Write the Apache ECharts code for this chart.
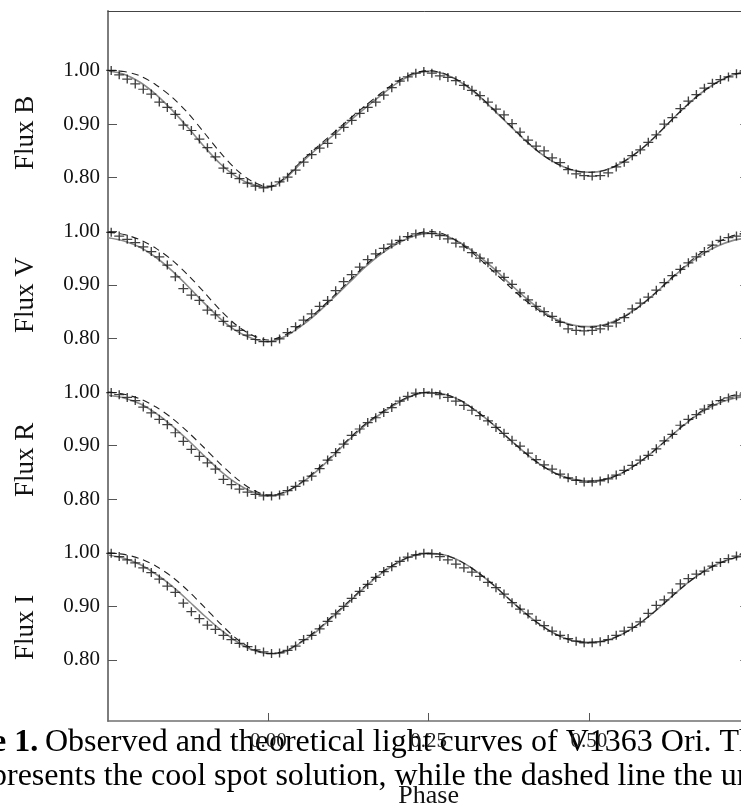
<!DOCTYPE html>
<html>
<head>
<meta charset="utf-8">
<script src="https://cdn.jsdelivr.net/npm/echarts@6/dist/echarts.min.js"></script>
<style>
  html, body { margin: 0; padding: 0; background: #fff; }
  #chart { width: 741px; height: 807px; }
</style>
</head>
<body>
<div id="chart"></div>
<script>
// observed phases (shared by all four bands)
const phaseObs = [
  -0.245, -0.2325, -0.22, -0.2075, -0.195, -0.1825, -0.17, -0.1575, -0.145, -0.1325,
  -0.12, -0.1075, -0.095, -0.0825, -0.07, -0.0575, -0.045, -0.0325, -0.02, -0.0075,
  0.005, 0.0175, 0.03, 0.0425, 0.055, 0.0675, 0.08, 0.0925, 0.105, 0.1175,
  0.13, 0.1425, 0.155, 0.1675, 0.18, 0.1925, 0.205, 0.2175, 0.23, 0.2425,
  0.255, 0.2675, 0.28, 0.2925, 0.305, 0.3175, 0.33, 0.3425, 0.355, 0.3675,
  0.38, 0.3925, 0.405, 0.4175, 0.43, 0.4425, 0.455, 0.4675, 0.48, 0.4925,
  0.505, 0.5175, 0.53, 0.5425, 0.555, 0.5675, 0.58, 0.5925, 0.605, 0.6175,
  0.63, 0.6425, 0.655, 0.6675, 0.68, 0.6925, 0.705, 0.7175, 0.73, 0.7425
];

const fluxB = [
  1.000, 0.992, 0.984, 0.975, 0.965, 0.956, 0.941, 0.931, 0.918, 0.898,
  0.888, 0.872, 0.856, 0.839, 0.818, 0.808, 0.798, 0.790, 0.784, 0.781,
  0.784, 0.792, 0.801, 0.814, 0.829, 0.843, 0.855, 0.864, 0.881, 0.894,
  0.907, 0.920, 0.931, 0.941, 0.954, 0.968, 0.980, 0.988, 0.995, 0.998,
  0.995, 0.990, 0.987, 0.981, 0.972, 0.963, 0.953, 0.941, 0.928, 0.917,
  0.901, 0.885, 0.870, 0.859, 0.850, 0.837, 0.828, 0.815, 0.807, 0.804,
  0.803, 0.804, 0.809, 0.820, 0.829, 0.841, 0.852, 0.866, 0.880, 0.900,
  0.912, 0.929, 0.943, 0.955, 0.967, 0.976, 0.983, 0.988, 0.994, 0.999
];

const fluxV = [
  0.998, 0.991, 0.985, 0.979, 0.971, 0.962, 0.952, 0.937, 0.915, 0.893,
  0.881, 0.871, 0.853, 0.844, 0.832, 0.823, 0.815, 0.806, 0.798, 0.794,
  0.794, 0.799, 0.811, 0.822, 0.834, 0.846, 0.860, 0.871, 0.889, 0.906,
  0.919, 0.933, 0.947, 0.958, 0.968, 0.976, 0.983, 0.990, 0.995, 0.997,
  0.996, 0.992, 0.986, 0.978, 0.971, 0.960, 0.950, 0.941, 0.926, 0.914,
  0.901, 0.885, 0.872, 0.860, 0.850, 0.841, 0.830, 0.818, 0.815, 0.814,
  0.815, 0.818, 0.823, 0.829, 0.839, 0.855, 0.866, 0.877, 0.890, 0.904,
  0.917, 0.929, 0.941, 0.952, 0.962, 0.974, 0.983, 0.988, 0.991, 0.995
];

const fluxR = [
  0.999, 0.995, 0.990, 0.984, 0.972, 0.961, 0.949, 0.939, 0.924, 0.908,
  0.893, 0.880, 0.868, 0.856, 0.837, 0.827, 0.819, 0.813, 0.809, 0.806,
  0.806, 0.808, 0.816, 0.824, 0.834, 0.843, 0.857, 0.873, 0.887, 0.903,
  0.919, 0.931, 0.943, 0.952, 0.962, 0.971, 0.983, 0.992, 0.998, 0.999,
  0.998, 0.995, 0.990, 0.983, 0.975, 0.966, 0.956, 0.946, 0.934, 0.923,
  0.910, 0.899, 0.886, 0.874, 0.864, 0.856, 0.847, 0.840, 0.835, 0.832,
  0.832, 0.834, 0.838, 0.845, 0.854, 0.863, 0.873, 0.882, 0.894, 0.909,
  0.921, 0.938, 0.949, 0.958, 0.968, 0.976, 0.984, 0.989, 0.993, 0.996
];

const fluxI = [
  0.999, 0.993, 0.987, 0.981, 0.972, 0.963, 0.951, 0.938, 0.926, 0.906,
  0.890, 0.877, 0.865, 0.857, 0.846, 0.838, 0.831, 0.825, 0.819, 0.815,
  0.812, 0.813, 0.818, 0.826, 0.838, 0.846, 0.858, 0.872, 0.886, 0.900,
  0.915, 0.928, 0.941, 0.954, 0.965, 0.974, 0.984, 0.992, 0.996, 0.999,
  0.998, 0.993, 0.987, 0.979, 0.972, 0.964, 0.956, 0.945, 0.935, 0.923,
  0.907, 0.895, 0.886, 0.874, 0.864, 0.854, 0.846, 0.840, 0.835, 0.832,
  0.832, 0.834, 0.838, 0.846, 0.854, 0.861, 0.871, 0.887, 0.902, 0.912,
  0.925, 0.942, 0.952, 0.960, 0.966, 0.975, 0.982, 0.989, 0.994, 0.997
];

// model phases
const phaseModel = [
  -0.25, -0.225, -0.2, -0.175, -0.15, -0.125, -0.1, -0.075, -0.05, -0.025,
  0, 0.025, 0.05, 0.075, 0.1, 0.125, 0.15, 0.175, 0.2, 0.225,
  0.25, 0.275, 0.3, 0.325, 0.35, 0.375, 0.4, 0.425, 0.45, 0.475,
  0.5, 0.525, 0.55, 0.575, 0.6, 0.625, 0.65, 0.675, 0.7, 0.725, 0.75
];

// cool spot solution (solid)
const spotB = [
  0.999, 0.993, 0.978, 0.955, 0.926, 0.893, 0.858, 0.826, 0.802, 0.787,
  0.782, 0.797, 0.826, 0.853, 0.878, 0.904, 0.929, 0.953, 0.976, 0.992,
  0.999, 0.993, 0.978, 0.956, 0.928, 0.899, 0.870, 0.845, 0.826, 0.814,
  0.810, 0.814, 0.827, 0.847, 0.873, 0.903, 0.932, 0.958, 0.978, 0.992, 0.998
];
const spotV = [
  0.988, 0.982, 0.970, 0.951, 0.926, 0.897, 0.866, 0.837, 0.814, 0.800,
  0.794, 0.803, 0.822, 0.846, 0.874, 0.903, 0.932, 0.957, 0.976, 0.990,
  0.996, 0.992, 0.978, 0.957, 0.932, 0.904, 0.877, 0.853, 0.835, 0.825,
  0.822, 0.826, 0.838, 0.857, 0.881, 0.908, 0.934, 0.956, 0.972, 0.983, 0.988
];
const spotR = [
  0.994, 0.989, 0.978, 0.960, 0.937, 0.910, 0.881, 0.853, 0.830, 0.814,
  0.807, 0.812, 0.829, 0.852, 0.880, 0.910, 0.937, 0.959, 0.978, 0.993,
  0.999, 0.996, 0.984, 0.964, 0.940, 0.913, 0.887, 0.864, 0.847, 0.837,
  0.834, 0.837, 0.848, 0.866, 0.889, 0.915, 0.940, 0.962, 0.978, 0.988, 0.992
];
const spotI = [
  0.996, 0.990, 0.978, 0.960, 0.938, 0.911, 0.883, 0.857, 0.835, 0.819,
  0.812, 0.815, 0.832, 0.853, 0.880, 0.907, 0.935, 0.960, 0.980, 0.994,
  0.999, 0.996, 0.984, 0.965, 0.941, 0.914, 0.888, 0.865, 0.847, 0.836,
  0.833, 0.836, 0.847, 0.865, 0.888, 0.914, 0.940, 0.962, 0.979, 0.990, 0.995
];

// unspotted solution (dashed)
const plainB = [
  1.000, 0.998, 0.990, 0.973, 0.950, 0.920, 0.884, 0.847, 0.815, 0.793,
  0.783, 0.799, 0.829, 0.856, 0.882, 0.908, 0.933, 0.957, 0.979, 0.994,
  1.000, 0.994, 0.979, 0.957, 0.929, 0.900, 0.871, 0.845, 0.826, 0.814,
  0.810, 0.814, 0.827, 0.847, 0.873, 0.903, 0.932, 0.958, 0.978, 0.992, 0.999
];
const plainV = [
  0.998, 0.994, 0.984, 0.968, 0.946, 0.918, 0.886, 0.853, 0.825, 0.806,
  0.797, 0.806, 0.825, 0.849, 0.877, 0.906, 0.935, 0.960, 0.979, 0.993,
  1.000, 0.994, 0.977, 0.953, 0.926, 0.898, 0.872, 0.850, 0.833, 0.824,
  0.821, 0.825, 0.837, 0.856, 0.881, 0.909, 0.936, 0.960, 0.979, 0.992, 0.998
];
const plainR = [
  1.000, 0.996, 0.987, 0.972, 0.951, 0.925, 0.896, 0.866, 0.839, 0.818,
  0.808, 0.813, 0.830, 0.854, 0.882, 0.912, 0.939, 0.961, 0.980, 0.994,
  1.000, 0.996, 0.984, 0.964, 0.940, 0.913, 0.887, 0.864, 0.847, 0.837,
  0.834, 0.837, 0.848, 0.866, 0.889, 0.915, 0.941, 0.964, 0.982, 0.994, 0.999
];
const plainI = [
  1.000, 0.997, 0.989, 0.975, 0.955, 0.929, 0.899, 0.868, 0.840, 0.821,
  0.812, 0.816, 0.833, 0.855, 0.882, 0.909, 0.937, 0.962, 0.981, 0.995,
  0.999, 0.996, 0.984, 0.965, 0.941, 0.914, 0.888, 0.865, 0.847, 0.836,
  0.833, 0.836, 0.847, 0.865, 0.888, 0.914, 0.940, 0.962, 0.979, 0.990, 0.999
];

const bandNames = ["Flux B", "Flux V", "Flux R", "Flux I"];
const fluxTicks = [0.8, 0.9, 1.0];
const phaseTicks = [0, 0.25, 0.5];

const obsList = [fluxB, fluxV, fluxR, fluxI];
const spotList = [spotB, spotV, spotR, spotI];
const plainList = [plainB, plainV, plainR, plainI];

const serif = "Liberation Serif";
const axisGray = "#7d7d7d";

// panel layout (px) and flux ranges
const panels = [
  { top: 11, height: 201.5, min: 0.735, max: 1.111 },
  { top: 212.5, height: 160.77, min: 0.735, max: 1.035 },
  { top: 373.27, height: 160.77, min: 0.735, max: 1.035 },
  { top: 534.04, height: 186.96, min: 0.6861, max: 1.035 },
];
const nameStart = [170, 333, 497, 660];

const plusSymbol = "path://M0,5L10,5M5,0L5,10";

let myChart = echarts.init(document.getElementById("chart"));

const grid = panels.map((p) => ({
  left: 108,
  right: -8.3,
  top: p.top,
  height: p.height,
  containLabel: false,
  outerBoundsMode: "none",
}));

const xAxis = [];
const yAxis = [];
const series = [];

panels.forEach((p, k) => {
  const bottom = k === 3;
  xAxis.push({
    type: "value",
    gridIndex: k,
    min: -0.25,
    max: 0.75,
    interval: 0.25,
    position: "bottom",
    splitLine: { show: false },
    axisLine: { show: bottom, onZero: false, lineStyle: { color: "#707070", width: 1.5 } },
    axisTick: {
      show: bottom,
      inside: true,
      length: 8,
      customValues: phaseTicks,
      lineStyle: { color: "#555" },
    },
    axisLabel: {
      show: bottom,
      customValues: phaseTicks,
      margin: 10,
      color: "#222",
      fontFamily: serif,
      fontSize: 21,
      formatter: (v) => v.toFixed(2),
    },
    name: bottom ? "Phase" : "",
    nameLocation: "middle",
    nameGap: 62,
    nameTextStyle: { fontFamily: serif, fontSize: 26, color: "#111" },
  });
  yAxis.push({
    type: "value",
    gridIndex: k,
    min: p.min,
    max: p.max,
    splitLine: { show: false },
    axisLine: { show: true, onZero: false, lineStyle: { color: axisGray, width: 2 } },
    axisTick: {
      show: true,
      inside: true,
      length: 9,
      customValues: fluxTicks,
      lineStyle: { color: "#555" },
    },
    axisLabel: {
      customValues: fluxTicks,
      margin: 8,
      color: "#111",
      fontFamily: serif,
      fontSize: 21,
      formatter: (v) => v.toFixed(2),
    },
  });
  series.push({
    type: "line",
    xAxisIndex: k,
    yAxisIndex: k,
    data: phaseModel.map((ph, i) => [ph, spotList[k][i]]),
    smooth: 0.3,
    symbol: "none",
    lineStyle: { color: "#8a8a8a", width: 1.6 },
    z: 2,
  });
  series.push({
    type: "line",
    xAxisIndex: k,
    yAxisIndex: k,
    data: phaseModel.map((ph, i) => [ph, plainList[k][i]]),
    smooth: 0.3,
    symbol: "none",
    lineStyle: { color: "#222", width: 1.1, type: [7, 5] },
    z: 3,
  });
  series.push({
    type: "scatter",
    xAxisIndex: k,
    yAxisIndex: k,
    data: phaseObs.map((ph, i) => [ph, obsList[k][i]]),
    symbol: plusSymbol,
    symbolSize: [10, 9],
    itemStyle: { color: "transparent", borderColor: "#111", borderWidth: 1.3 },
    clip: false,
    z: 4,
  });
});

// top border of the frame
xAxis.push({
  type: "value",
  gridIndex: 0,
  min: -0.25,
  max: 0.75,
  position: "top",
  splitLine: { show: false },
  axisLine: { show: true, onZero: false, lineStyle: { color: "#444", width: 1 } },
  axisTick: { show: false },
  axisLabel: { show: false },
});
// inward ticks on the (cropped) right border
panels.forEach((p, k) => {
  yAxis.push({
    type: "value",
    gridIndex: k,
    min: p.min,
    max: p.max,
    position: "right",
    splitLine: { show: false },
    axisLine: { show: true, onZero: false, lineStyle: { color: axisGray, width: 1 } },
    axisTick: { show: true, inside: true, length: 9, customValues: fluxTicks, lineStyle: { color: "#555" } },
    axisLabel: { show: false },
  });
});

const graphic = bandNames.map((name, k) => ({
  type: "text",
  x: 26,
  y: nameStart[k],
  rotation: Math.PI / 2,
  style: {
    text: name,
    fontFamily: serif,
    fontSize: 27,
    fill: "#111",
    align: "left",
    verticalAlign: "middle",
  },
}));

// figure caption (cropped in the original)
graphic.push(
  {
    type: "text",
    x: -8,
    y: 743,
    z: -10,
    style: { text: "e 1.", fontFamily: serif, fontWeight: "bold", fontSize: 32, fill: "#000", verticalAlign: "middle" },
  },
  {
    type: "text",
    x: 45,
    y: 743,
    z: -10,
    style: {
      text: "Observed and theoretical light curves of V1363 Ori. The",
      fontFamily: serif,
      fontSize: 32,
      fill: "#000",
      verticalAlign: "middle",
    },
  },
  {
    type: "text",
    x: -9,
    y: 777,
    z: -10,
    style: {
      text: "presents the cool spot solution, while the dashed line the unspotted",
      fontFamily: serif,
      fontSize: 32,
      fill: "#000",
      verticalAlign: "middle",
    },
  }
);

const option = {
  animation: false,
  backgroundColor: "#fff",
  grid: grid,
  xAxis: xAxis,
  yAxis: yAxis,
  series: series,
  graphic: graphic,
};

myChart.setOption(option);
</script>
</body>
</html>
